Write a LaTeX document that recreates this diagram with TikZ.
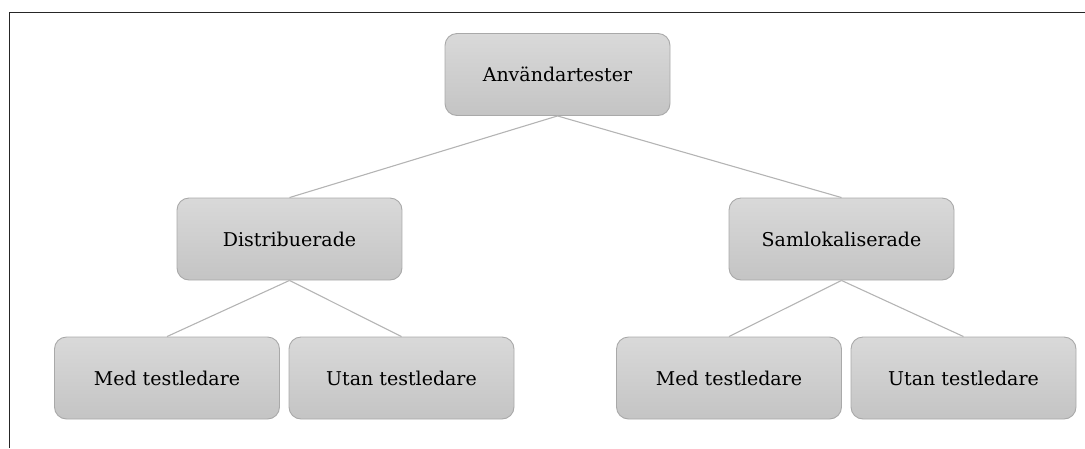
\documentclass[tikz,border=0pt]{standalone}
\usepackage{fontspec}
\setmainfont{DejaVu Serif}
\usetikzlibrary{shadings}
\definecolor{boxtop}{HTML}{D9D9D9}
\definecolor{boxbot}{HTML}{C4C4C4}
\definecolor{boxline}{HTML}{A9A9A9}
\definecolor{linkline}{HTML}{B4B4B4}
\tikzset{
  treebox/.style={draw=boxline, line width=0.9pt, rounded corners=12pt,
    top color=boxtop, bottom color=boxbot,
    minimum width=225pt, minimum height=82pt, inner sep=0pt,
    font=\fontsize{19}{22}\selectfont, text=black},
  link/.style={draw=linkline, line width=1.1pt}
}
\begin{document}
\begin{tikzpicture}[x=1pt,y=-1pt]
  \useasboundingbox (0,0) rectangle (1085,448);
  % frame (left and top edges)
  \draw[line width=1.5pt, black!85] (9.5,448) -- (9.5,12.5) -- (1085,12.5);

  \node[treebox] (root) at (557.5,74.5) {Användartester};
  \node[treebox] (dist) at (289.5,239) {Distribuerade};
  \node[treebox] (saml) at (841.5,239) {Samlokaliserade};
  \node[treebox] (dmed) at (167,378) {Med testledare};
  \node[treebox] (dutan) at (401.5,378) {Utan testledare};
  \node[treebox] (smed) at (729,378) {Med testledare};
  \node[treebox] (sutan) at (963.5,378) {Utan testledare};

  \draw[link] (root.south) -- (dist.north);
  \draw[link] (root.south) -- (saml.north);
  \draw[link] (dist.south) -- (dmed.north);
  \draw[link] (dist.south) -- (dutan.north);
  \draw[link] (saml.south) -- (smed.north);
  \draw[link] (saml.south) -- (sutan.north);
\end{tikzpicture}
\end{document}
